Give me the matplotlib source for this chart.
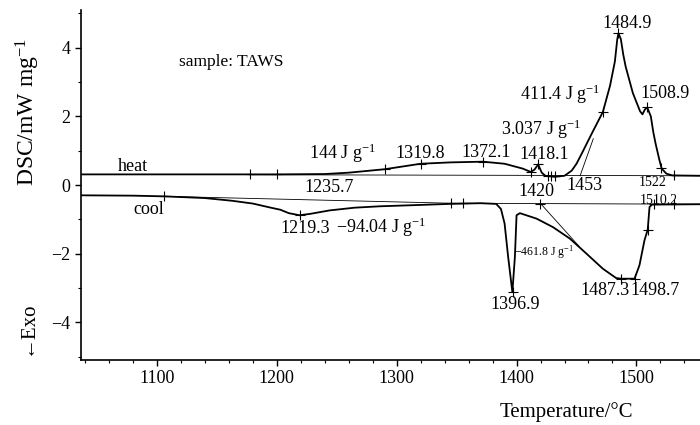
import matplotlib
matplotlib.use("Agg")
import matplotlib.pyplot as plt
from matplotlib.ticker import MultipleLocator

plt.rcParams['font.family'] = ['Liberation Serif', 'DejaVu Serif']
plt.rcParams['mathtext.fontset'] = 'custom'
plt.rcParams['mathtext.rm'] = 'Liberation Serif'
plt.rcParams['mathtext.it'] = 'Liberation Serif:italic'

# heating curve (temperature / DSC)
heat_t = [1037, 1100, 1150, 1200, 1240, 1260, 1290, 1320, 1345, 1372, 1390, 1405,
          1412, 1415, 1418, 1421, 1424, 1432, 1440, 1446, 1450, 1455, 1462, 1472,
          1478, 1482, 1484, 1485, 1487, 1489, 1491, 1497, 1503, 1505, 1507, 1509,
          1512, 1514, 1516, 1519, 1521, 1525, 1530, 1553]
heat_v = [0.31, 0.31, 0.31, 0.31, 0.32, 0.36, 0.46, 0.62, 0.66, 0.68, 0.62, 0.48,
          0.38, 0.45, 0.60, 0.36, 0.27, 0.24, 0.27, 0.42, 0.62, 0.96, 1.45, 2.13,
          2.90, 3.60, 4.25, 4.42, 4.25, 3.80, 3.45, 2.68, 2.15, 2.06, 2.20, 2.26,
          2.00, 1.55, 1.20, 0.75, 0.48, 0.33, 0.28, 0.27]

# cooling curve
cool_t = [1037, 1080, 1106, 1140, 1163, 1180, 1195, 1203, 1210, 1219, 1228, 1244,
          1265, 1286, 1320, 1344, 1370, 1383, 1387, 1390, 1393, 1396.5, 1398.6,
          1400, 1402.8, 1416.7, 1430.5, 1444.4, 1458.3, 1472, 1483, 1487.3, 1498.4,
          1502.5, 1506.7, 1509.4, 1510.9, 1513, 1553]
cool_v = [-0.30, -0.31, -0.33, -0.38, -0.46, -0.54, -0.66, -0.72, -0.82, -0.88,
          -0.84, -0.74, -0.66, -0.62, -0.58, -0.55, -0.53, -0.55, -0.70, -1.12,
          -2.10, -3.12, -2.10, -0.88, -0.82, -0.98, -1.23, -1.56, -2.00, -2.44,
          -2.71, -2.73, -2.73, -2.34, -1.61, -1.30, -0.64, -0.57, -0.56]

# thin baselines / tangents
heat_base_t = [1177, 1553]
heat_base_v = [0.30, 0.27]
heat_onset_t = [1453, 1464]
heat_onset_v = [0.27, 1.35]
cool_base1_t = [1106, 1345]
cool_base1_v = [-0.33, -0.53]
cool_base2_t = [1345, 1553]
cool_base2_v = [-0.53, -0.56]
cool_onset_t = [1420, 1452]
cool_onset_v = [-0.54, -1.78]

# tick marks on curves
heat_mark_t = [1177.5, 1200.6, 1290, 1320, 1372, 1412.3, 1418, 1426, 1429, 1432,
               1472, 1485, 1509, 1520.6, 1531.7]
heat_mark_v = [0.31, 0.31, 0.46, 0.62, 0.68, 0.38, 0.60, 0.25, 0.25, 0.25,
               2.13, 4.42, 2.26, 0.50, 0.28]
cool_mark_t = [1106, 1219.3, 1345.6, 1355.3, 1419.7, 1396.9, 1487.3, 1498.7,
               1509.4, 1515, 1531.7]
cool_mark_v = [-0.33, -0.88, -0.53, -0.53, -0.54, -3.12, -2.73, -2.73,
               -1.30, -0.56, -0.56]

# labels: text, x, y, size
labels = [
    ("sample: TAWS", 1161.7, 3.58, 12.5),
    ("heat", 1080, 0.55, 13),
    ("cool", 1093, -0.71, 13),
    ("144 J g$^{-1}$", 1255, 0.92, 13),
    ("1319.8", 1320, 0.92, 13),
    ("1235.7", 1244, -0.06, 13),
    ("1372.1", 1374.8, 0.94, 13),
    ("1418.1", 1423.4, 0.90, 13),
    ("3.037 J g$^{-1}$", 1420.6, 1.62, 13),
    ("411.4 J g$^{-1}$", 1436, 2.65, 13),
    ("1484.9", 1492, 4.71, 13),
    ("1508.9", 1524, 2.67, 13),
    ("1453", 1456.7, 0.0, 13),
    ("1522", 1513.8, 0.06, 10),
    ("1420", 1416.4, -0.2, 13),
    ("1510.2", 1518.4, -0.45, 10),
    ("1219.3", 1224, -1.27, 13),
    ("\u221294.04 J g$^{-1}$", 1287.5, -1.22, 13),
    ("\u2212461.8 J g$^{-1}$", 1423, -1.95, 8.5),
    ("1396.9", 1399, -3.47, 13),
    ("1487.3", 1473.4, -3.07, 13),
    ("1498.7", 1515.8, -3.07, 13),
]

fig = plt.figure(figsize=(7, 4.25), dpi=100)
ax = fig.add_axes([0.1157, 0.1529, 0.8843, 0.8235])

ax.plot(heat_t, heat_v, color='black', lw=1.3)
ax.plot(cool_t, cool_v, color='black', lw=1.3)
for bt, bv in [(heat_base_t, heat_base_v), (heat_onset_t, heat_onset_v),
               (cool_base1_t, cool_base1_v), (cool_base2_t, cool_base2_v),
               (cool_onset_t, cool_onset_v)]:
    ax.plot(bt, bv, color='black', lw=0.6)
ax.plot(heat_mark_t, heat_mark_v, ls='none', marker='+', ms=7, mew=0.8, color='black')
ax.plot(cool_mark_t, cool_mark_v, ls='none', marker='+', ms=7, mew=0.8, color='black')

for txt, x, y, s in labels:
    ax.text(x, y, txt, fontsize=s, ha='center', va='center')

ax.set_xlim(1036.7, 1553)
ax.set_ylim(-5.1, 5.1)
ax.xaxis.set_major_locator(MultipleLocator(100))
ax.xaxis.set_minor_locator(MultipleLocator(20))
ax.yaxis.set_major_locator(MultipleLocator(2))
ax.yaxis.set_minor_locator(MultipleLocator(1))
ax.tick_params(which='major', direction='out', length=4, width=1, labelsize=13)
ax.tick_params(which='minor', direction='out', length=2.5, width=0.8)
ax.spines['top'].set_visible(False)
ax.spines['right'].set_visible(False)
ax.spines['left'].set_linewidth(1.2)
ax.spines['bottom'].set_linewidth(1.2)

fig.text(28 / 700, 1 - 112 / 425, "DSC/mW mg$^{-1}$", fontsize=17, rotation=90,
         ha='center', va='center')
fig.text(27 / 700, 1 - 327.5 / 425, "\u2190Exo", fontsize=15, rotation=90,
         ha='center', va='center')
fig.text(566.7 / 700, 1 - 411.7 / 425, "Temperature/\u00b0C", fontsize=15,
         ha='center', va='center')

fig.savefig("out.png", dpi=100)
